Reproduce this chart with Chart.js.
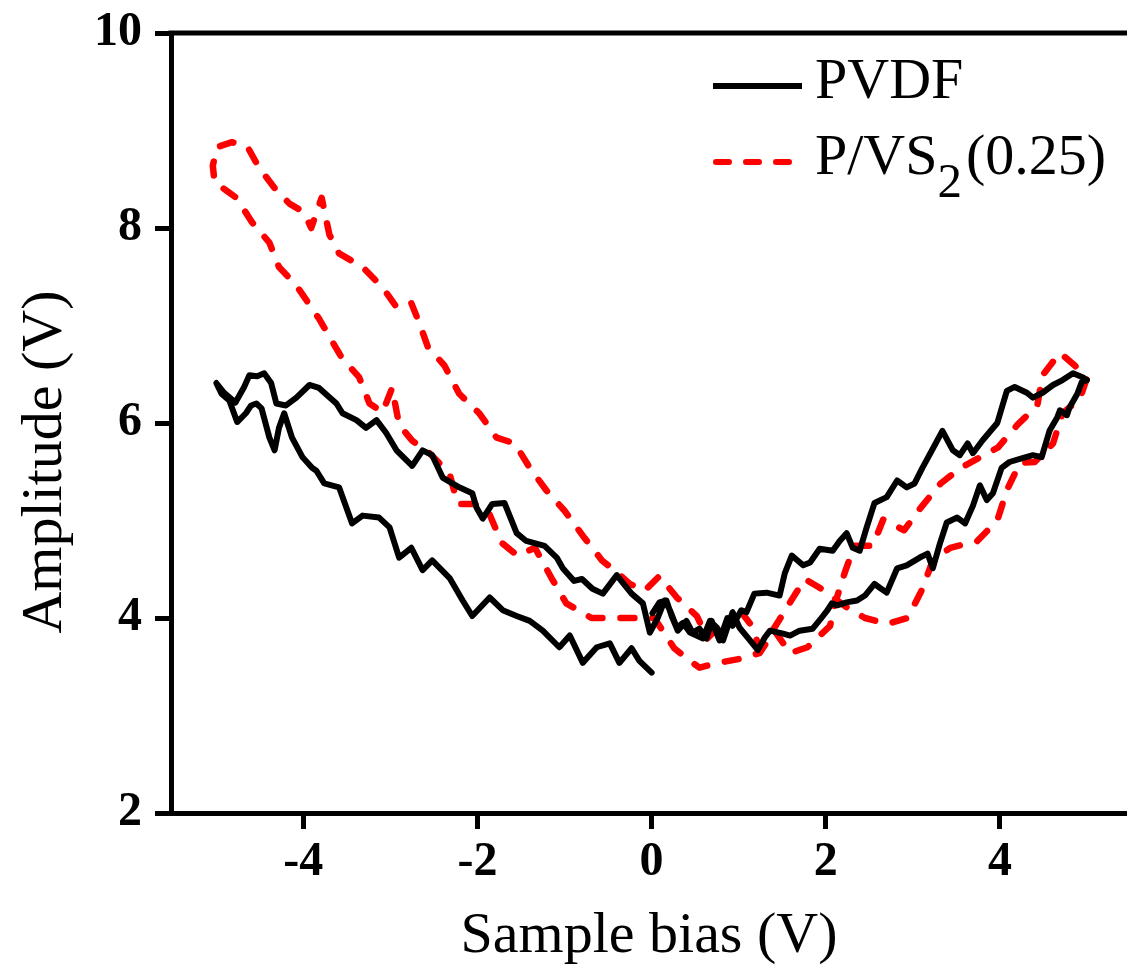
<!DOCTYPE html>
<html><head><meta charset="utf-8">
<script src="https://cdn.jsdelivr.net/npm/chart.js@4.4.1/dist/chart.umd.min.js"></script>
<style>html,body{margin:0;padding:0;background:#fff;overflow:hidden}#wrap{width:1127px;height:968px}</style>
</head><body><div id="wrap"><canvas id="c" width="1127" height="968"></canvas></div>
<script>
// ---- data ----
const xTicks = [-4, -2, 0, 2, 4];
const yTicks = [2, 4, 6, 8, 10];
const xTitle = 'Sample bias (V)';
const yTitle = 'Amplitude (V)';
const seriesNames = ['PVDF', 'P/VS2(0.25)'];
// legend text pieces (subscript for the 2)
const legendPieces = [[{t:'PVDF'}], [{t:'P/VS'}, {t:'2', sub:true}, {t:'(0.25)'}]];

const pvdfX = [
 0.01,0.09,0.17,0.23,0.30,0.40,0.47,0.55,0.63,0.69,0.78,0.87,0.93,1.03,1.09,1.18,1.32,1.47,1.53,1.61,1.74,1.82,1.93,2.08,2.16,2.24,2.31,2.39,2.47,2.56,2.70,2.82,2.93,3.02,3.11,3.22,3.34,3.46,3.54,3.63,3.69,3.80,3.97,4.08,4.17,4.31,4.38,4.49,4.61,4.72,4.84,4.95,5.00,
 4.94,4.89,4.80,4.77,4.69,4.66,4.57,4.48,4.38,4.26,4.11,4.02,3.92,3.85,3.77,3.69,3.60,3.51,3.39,3.31,3.23,3.17,3.08,2.93,2.82,2.70,2.62,2.56,2.45,2.36,2.24,2.13,2.07,2.02,1.95,1.85,1.70,1.59,1.51,1.36,1.30,1.22,1.13,1.01,
 0.93,0.82,0.75,0.67,0.59,0.44,0.36,0.29,0.21,0.15,0.07,-0.02,-0.10,-0.23,-0.33,-0.40,-0.56,-0.68,-0.80,-0.89,-1.02,-1.09,-1.23,-1.44,-1.55,-1.69,-1.83,-1.94,-2.01,-2.06,-2.21,-2.40,-2.52,-2.63,-2.75,-2.93,-3.05,-3.16,-3.28,-3.39,-3.55,-3.62,-3.82,-3.93,-4.08,-4.20,-4.31,-4.37,-4.45,-4.53,-4.62,-4.68,-4.78,-4.91,-5.00,
 -4.94,-4.85,-4.76,-4.66,-4.60,-4.54,-4.48,-4.39,-4.33,-4.28,-4.22,-4.13,-4.01,-3.90,-3.85,-3.76,-3.59,-3.44,-3.32,-3.13,-3.01,-2.90,-2.76,-2.63,-2.52,-2.32,-2.17,-2.06,-1.86,-1.71,-1.55,-1.40,-1.25,-1.06,-0.94,-0.79,-0.63,-0.48,-0.37,-0.23,-0.14,0.00
];
const pvdfY = [
 4.05,4.16,4.18,4.02,3.87,3.97,3.85,3.89,3.79,3.97,3.77,4.00,3.92,4.08,4.06,4.25,4.26,4.23,4.46,4.64,4.54,4.57,4.71,4.69,4.79,4.87,4.72,4.69,4.93,5.18,5.24,5.41,5.34,5.38,5.54,5.72,5.92,5.72,5.67,5.79,5.69,5.82,6.00,6.33,6.37,6.31,6.26,6.31,6.39,6.44,6.51,6.47,6.44,
 6.42,6.30,6.16,6.08,6.13,6.06,5.92,5.65,5.67,5.64,5.60,5.54,5.28,5.21,5.36,5.15,4.97,5.03,4.98,4.76,4.51,4.66,4.62,4.54,4.51,4.26,4.31,4.35,4.23,4.18,4.16,4.13,4.15,4.08,4.00,3.89,3.87,3.82,3.84,3.87,3.80,3.67,3.77,3.90,
 4.06,3.77,3.90,3.97,3.79,3.85,3.95,3.90,4.08,4.18,4.00,3.85,4.15,4.25,4.36,4.44,4.25,4.30,4.40,4.38,4.51,4.62,4.74,4.79,4.87,5.18,5.17,5.02,5.13,5.28,5.34,5.44,5.67,5.72,5.56,5.72,5.90,6.03,5.95,6.03,6.10,6.20,6.36,6.39,6.26,6.18,6.20,6.41,6.51,6.48,6.49,6.37,6.21,6.31,6.41,
 6.30,6.23,6.01,6.10,6.18,6.20,6.15,5.85,5.72,5.95,6.10,5.85,5.65,5.54,5.51,5.38,5.34,4.97,5.05,5.03,4.93,4.62,4.72,4.49,4.59,4.41,4.18,4.02,4.21,4.08,4.02,3.97,3.87,3.70,3.82,3.54,3.70,3.74,3.54,3.69,3.56,3.44
];
const pvs2X = [
 1.03,1.15,1.24,1.41,1.59,1.76,1.93,2.24,2.45,2.71,2.94,3.10,3.23,3.43,3.74,3.97,4.08,4.23,4.40,4.61,4.72,4.92,5.00,
 4.86,4.69,4.49,4.43,4.20,3.98,3.55,3.32,3.09,2.90,2.66,2.54,2.33,2.22,2.10,2.05,1.79,1.59,1.41,1.24,1.01,0.76,0.55,0.44,0.26,0.03,-0.14,-0.37,-0.69,-0.98,-1.15,-1.34,-1.54,-1.72,-1.87,-2.03,-2.23,-2.32,-2.55,-2.75,-2.90,-2.98,-3.09,-3.24,-3.36,-3.56,-3.82,-4.08,-4.28,-4.39,-4.59,-4.77,-5.02,-5.04,
 -4.99,-4.82,-4.64,-4.51,-4.33,-4.16,-3.99,-3.91,-3.79,-3.70,-3.59,-3.32,-3.09,-2.93,-2.76,-2.67,-2.57,-2.38,-2.21,-1.98,-1.78,-1.57,-1.40,-1.21,-1.00,-0.77,-0.57,-0.40,-0.25,-0.08,0.09,0.29,0.52,0.64,0.75,0.93
];
const pvs2Y = [
 4.06,3.92,3.69,3.90,4.16,4.40,4.31,4.11,4.00,3.94,4.00,4.28,4.59,4.72,4.79,5.00,5.31,5.59,5.60,5.79,6.10,6.25,6.46,
 6.59,6.72,6.49,6.18,5.98,5.75,5.54,5.38,5.13,4.90,5.01,4.74,4.74,4.47,4.13,3.92,3.70,3.64,3.87,3.64,3.58,3.54,3.49,3.56,3.69,4.00,4.00,4.00,4.00,4.15,4.41,4.72,4.64,4.77,5.08,5.17,5.17,5.48,5.69,5.82,5.98,6.36,6.11,6.20,6.47,6.67,7.07,7.41,7.60,7.85,8.06,8.31,8.47,8.64,
 8.83,8.88,8.83,8.62,8.41,8.25,8.16,8.00,8.31,7.93,7.74,7.60,7.39,7.19,7.23,7.03,6.78,6.59,6.30,6.10,5.85,5.79,5.54,5.31,5.10,4.82,4.59,4.47,4.35,4.28,4.43,4.21,4.02,3.79,3.89,3.82
];

// ---- chart ----
const FONT = 'Liberation Serif';
const toPts = (xs, ys) => xs.map((x, i) => ({x: x, y: ys[i]}));

const framePlugin = {
  id: 'frame',
  afterDraw(chart) {
    const ctx = chart.ctx, a = chart.chartArea;
    ctx.save();
    // top frame line
    ctx.strokeStyle = '#000'; ctx.lineWidth = 5; ctx.lineCap = 'butt';
    ctx.beginPath(); ctx.moveTo(a.left - 2.5, a.top); ctx.lineTo(a.right, a.top); ctx.stroke();
    // y axis title
    ctx.fillStyle = '#000';
    ctx.font = '58px "' + FONT + '"';
    ctx.textAlign = 'center'; ctx.textBaseline = 'alphabetic';
    ctx.translate(61, 462); ctx.rotate(-Math.PI / 2);
    ctx.fillText(yTitle, 0, 0);
    ctx.restore();
    // legend
    chart.data.datasets.forEach((ds, i) => {
      const ly = 86 + i * 76;
      ctx.save();
      ctx.strokeStyle = ds.borderColor; ctx.lineWidth = 6;
      if (ds.borderDash && ds.borderDash.length) {
        ctx.lineCap = 'round'; ctx.setLineDash([13, 17]);
        ctx.beginPath(); ctx.moveTo(716, ly); ctx.lineTo(790, ly); ctx.stroke();
      } else {
        ctx.lineCap = 'butt';
        ctx.beginPath(); ctx.moveTo(713, ly); ctx.lineTo(802, ly); ctx.stroke();
      }
      ctx.setLineDash([]);
      ctx.fillStyle = '#000'; ctx.textBaseline = 'alphabetic'; ctx.textAlign = 'left';
      let tx = 815; const base = ly + 12;
      legendPieces[i].forEach(p => {
        ctx.font = (p.sub ? 49 : 58) + 'px "' + FONT + '"';
        ctx.fillText(p.t, tx, p.sub ? base + 23 : base);
        tx += ctx.measureText(p.t).width + (p.sub ? 4 : 0);
      });
      ctx.restore();
    });
  }
};

new Chart(document.getElementById('c'), {
  type: 'scatter',
  data: {
    datasets: [
      {label: seriesNames[0], data: toPts(pvdfX, pvdfY), showLine: true, borderColor: '#000000',
       borderWidth: 6, pointRadius: 0, tension: 0, borderCapStyle: 'round', borderJoinStyle: 'round'},
      {label: seriesNames[1], data: toPts(pvs2X, pvs2Y), showLine: true, borderColor: '#ff0000',
       borderWidth: 6.5, borderDash: [14, 18], pointRadius: 0, tension: 0, borderCapStyle: 'round', borderJoinStyle: 'round'}
    ]
  },
  options: {
    responsive: false, animation: false, devicePixelRatio: 1,
    layout: {padding: {top: 33, right: 0, left: 0, bottom: 0}},
    plugins: {legend: {display: false}, tooltip: {enabled: false}},
    scales: {
      x: {
        type: 'linear', min: -5.52, max: 5.46,
        afterBuildTicks: s => { s.ticks = xTicks.map(v => ({value: v})); },
        afterFit: s => { s.height = 155; s.paddingLeft = 0; s.paddingRight = 0; },
        grid: {display: true, drawOnChartArea: false, drawTicks: true, tickLength: 16, tickWidth: 5, tickColor: '#000'},
        border: {display: true, width: 5, color: '#000'},
        ticks: {color: '#000', font: {family: FONT, size: 48, weight: 'bold'}, padding: 5, maxRotation: 0, autoSkip: false},
        title: {display: true, text: xTitle, color: '#000', font: {family: FONT, size: 58, lineHeight: 1}, padding: {top: 0, bottom: 2}}
      },
      y: {
        type: 'linear', min: 2, max: 10,
        afterBuildTicks: s => { s.ticks = yTicks.map(v => ({value: v})); },
        afterFit: s => { s.width = 171; s.paddingTop = 0; s.paddingBottom = 0; },
        grid: {display: true, drawOnChartArea: false, drawTicks: true, tickLength: 16, tickWidth: 5, tickColor: '#000'},
        border: {display: true, width: 5, color: '#000'},
        ticks: {color: '#000', font: {family: FONT, size: 48, weight: 'bold'}, padding: 13, autoSkip: false}
      }
    }
  },
  plugins: [framePlugin]
});
</script></body></html>
